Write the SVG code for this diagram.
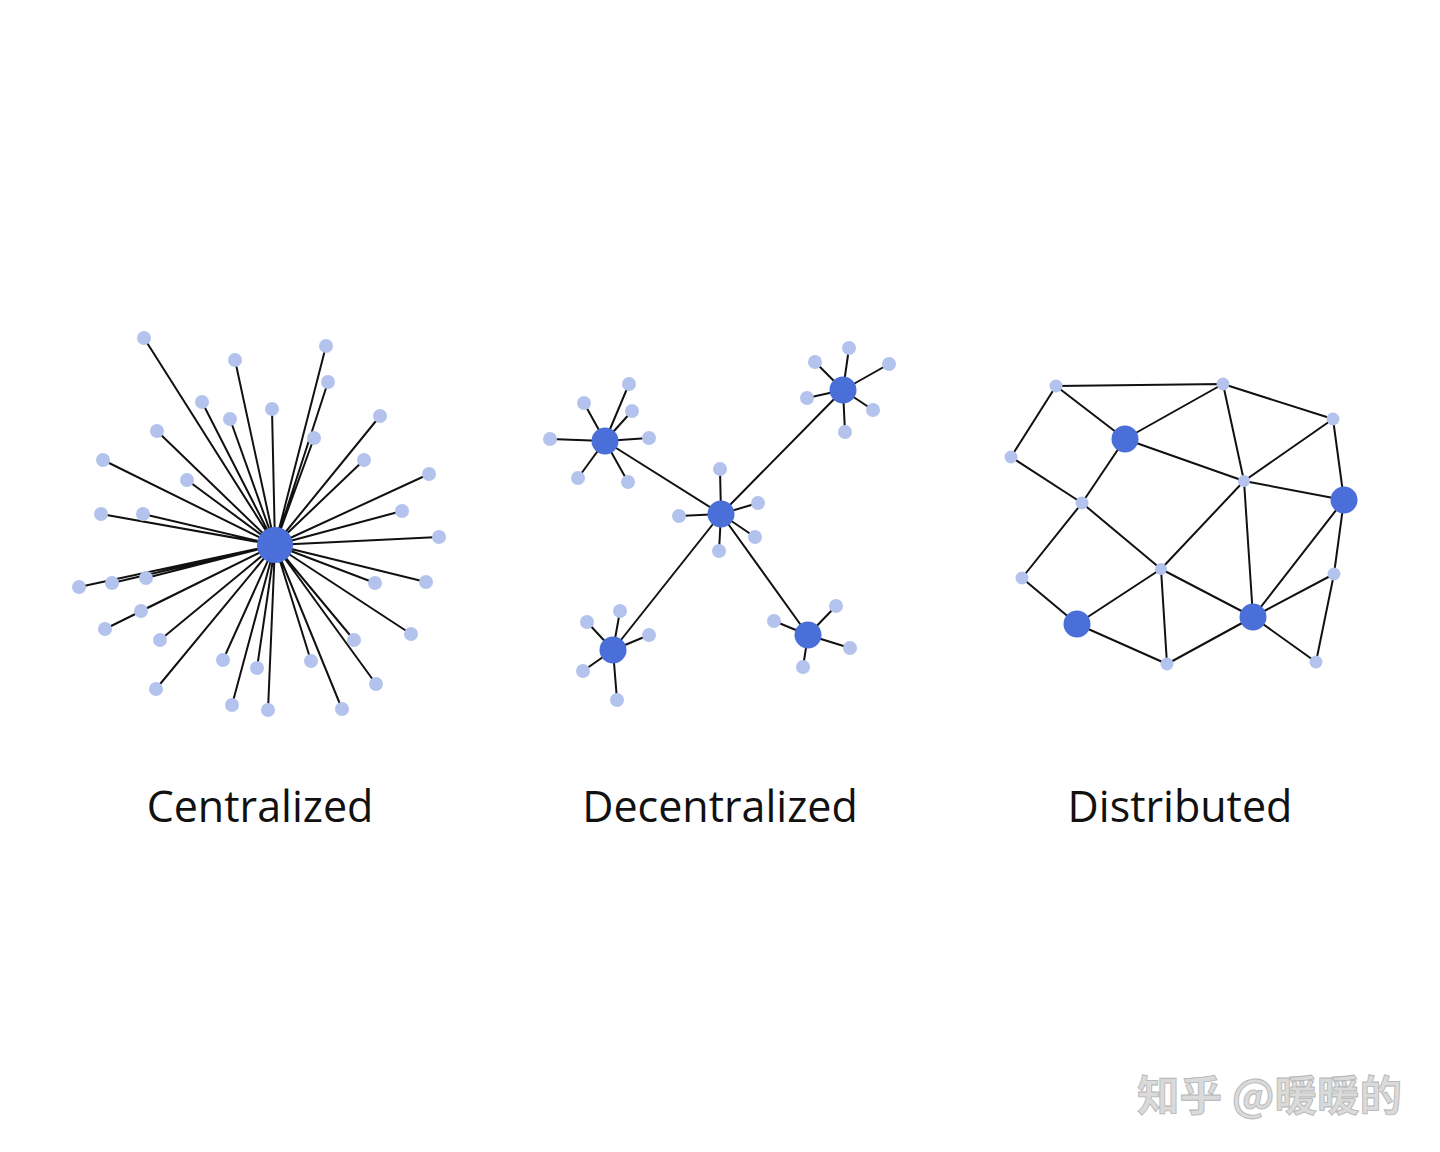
<svg xmlns="http://www.w3.org/2000/svg" width="1440" height="1152" viewBox="0 0 1440 1152">
<style>
.e{stroke:#111;stroke-width:2;fill:none}
.leaf{fill:#b3c3ed}
.hub{fill:#4a6fd9}
.lbl{font-family:"Open Sans","Noto Sans","Liberation Sans",sans-serif;font-size:43px;fill:#111;text-anchor:middle}
.wm{font-family:"Noto Sans CJK SC","Noto Sans",sans-serif;font-size:42.5px;font-weight:bold;fill:#dadada;stroke:#b4b4b4;stroke-width:0.8}
</style>
<rect width="1440" height="1152" fill="#fff"/>
<g id="connectors">
<g id="c-edges">
<path class="e" d="M275 545L144 338M275 545L235 360M275 545L202 402M275 545L230 419M275 545L272 409M275 545L157 431M275 545L103 460M275 545L187 480M275 545L101 514M275 545L143 514M275 545L326 346M275 545L328 382M275 545L314 438M275 545L380 416M275 545L364 460M275 545L429 474M275 545L402 511M275 545L439 537M275 545L79 587M275 545L112 583M275 545L146 578M275 545L141 611M275 545L105 629M275 545L160 640M275 545L223 660M275 545L257 668M275 545L156 689M275 545L232 705M275 545L268 710M275 545L375 583M275 545L426 582M275 545L354 640M275 545L411 634M275 545L311 661M275 545L376 684M275 545L342 709"/>
</g>
<g id="d-edges">
<path class="e" d="M721 514L605 441M721 514L843 390M721 514L613 650M721 514L808 635"/>
<path class="e" d="M721 514L720 469M721 514L758 503M721 514L755 537M721 514L719 551M721 514L679 516"/>
<path class="e" d="M605 441L629 384M605 441L584 403M605 441L632 411M605 441L550 439M605 441L649 438M605 441L578 478M605 441L628 482"/>
<path class="e" d="M843 390L849 348M843 390L815 362M843 390L889 364M843 390L807 398M843 390L873 410M843 390L845 432"/>
<path class="e" d="M613 650L620 611M613 650L587 622M613 650L649 635M613 650L583 671M613 650L617 700"/>
<path class="e" d="M808 635L836 606M808 635L774 621M808 635L850 648M808 635L803 667"/>
</g>
<g id="x-edges">
<path class="e" d="M1056 386L1223 384M1056 386L1011 457M1056 386L1125 439M1011 457L1082 503M1125 439L1082 503M1125 439L1223 384M1125 439L1244 481M1223 384L1333 419M1223 384L1244 481M1333 419L1244 481M1333 419L1344 500M1244 481L1344 500M1244 481L1161 569M1244 481L1253 617M1082 503L1022 578M1082 503L1161 569M1022 578L1077 624M1077 624L1161 569M1077 624L1167 664M1161 569L1167 664M1161 569L1253 617M1167 664L1253 617M1253 617L1344 500M1253 617L1334 574M1253 617L1316 662M1344 500L1334 574M1334 574L1316 662"/>
</g>
</g>
<g id="centralized">
<g id="c-leaves" class="leaf">
<circle cx="144" cy="338" r="7"/><circle cx="235" cy="360" r="7"/><circle cx="202" cy="402" r="7"/><circle cx="230" cy="419" r="7"/><circle cx="272" cy="409" r="7"/><circle cx="157" cy="431" r="7"/><circle cx="103" cy="460" r="7"/><circle cx="187" cy="480" r="7"/><circle cx="101" cy="514" r="7"/><circle cx="143" cy="514" r="7"/><circle cx="326" cy="346" r="7"/><circle cx="328" cy="382" r="7"/><circle cx="314" cy="438" r="7"/><circle cx="380" cy="416" r="7"/><circle cx="364" cy="460" r="7"/><circle cx="429" cy="474" r="7"/><circle cx="402" cy="511" r="7"/><circle cx="439" cy="537" r="7"/><circle cx="79" cy="587" r="7"/><circle cx="112" cy="583" r="7"/><circle cx="146" cy="578" r="7"/><circle cx="141" cy="611" r="7"/><circle cx="105" cy="629" r="7"/><circle cx="160" cy="640" r="7"/><circle cx="223" cy="660" r="7"/><circle cx="257" cy="668" r="7"/><circle cx="156" cy="689" r="7"/><circle cx="232" cy="705" r="7"/><circle cx="268" cy="710" r="7"/><circle cx="375" cy="583" r="7"/><circle cx="426" cy="582" r="7"/><circle cx="354" cy="640" r="7"/><circle cx="411" cy="634" r="7"/><circle cx="311" cy="661" r="7"/><circle cx="376" cy="684" r="7"/><circle cx="342" cy="709" r="7"/>
</g>
<circle id="c-hub" class="hub" cx="275" cy="545" r="18"/>
<text id="c-label" class="lbl" x="260" y="822">Centralized</text>
</g>
<g id="decentralized">
<g id="d-leaves" class="leaf">
<circle cx="720" cy="469" r="7"/><circle cx="758" cy="503" r="7"/><circle cx="755" cy="537" r="7"/><circle cx="719" cy="551" r="7"/><circle cx="679" cy="516" r="7"/>
<circle cx="629" cy="384" r="7"/><circle cx="584" cy="403" r="7"/><circle cx="632" cy="411" r="7"/><circle cx="550" cy="439" r="7"/><circle cx="649" cy="438" r="7"/><circle cx="578" cy="478" r="7"/><circle cx="628" cy="482" r="7"/>
<circle cx="849" cy="348" r="7"/><circle cx="815" cy="362" r="7"/><circle cx="889" cy="364" r="7"/><circle cx="807" cy="398" r="7"/><circle cx="873" cy="410" r="7"/><circle cx="845" cy="432" r="7"/>
<circle cx="620" cy="611" r="7"/><circle cx="587" cy="622" r="7"/><circle cx="649" cy="635" r="7"/><circle cx="583" cy="671" r="7"/><circle cx="617" cy="700" r="7"/>
<circle cx="836" cy="606" r="7"/><circle cx="774" cy="621" r="7"/><circle cx="850" cy="648" r="7"/><circle cx="803" cy="667" r="7"/>
</g>
<g id="d-hubs" class="hub">
<circle cx="721" cy="514" r="13.5"/><circle cx="605" cy="441" r="13.5"/><circle cx="843" cy="390" r="13.5"/><circle cx="613" cy="650" r="13.5"/><circle cx="808" cy="635" r="13.5"/>
</g>
<text id="d-label" class="lbl" x="720" y="822">Decentralized</text>
</g>
<g id="distributed">
<g id="x-nodes" class="leaf">
<circle cx="1056" cy="386" r="6.5"/><circle cx="1011" cy="457" r="6.5"/><circle cx="1082" cy="503" r="6.5"/><circle cx="1223" cy="384" r="6.5"/><circle cx="1333" cy="419" r="6.5"/><circle cx="1244" cy="481" r="6"/><circle cx="1022" cy="578" r="6.5"/><circle cx="1161" cy="569" r="6"/><circle cx="1334" cy="574" r="6.5"/><circle cx="1167" cy="664" r="6.5"/><circle cx="1316" cy="662" r="6.5"/>
</g>
<g id="x-hubs" class="hub">
<circle cx="1125" cy="439" r="13.5"/><circle cx="1344" cy="500" r="13.5"/><circle cx="1077" cy="624" r="13.5"/><circle cx="1253" cy="617" r="13.5"/>
</g>
<text id="x-label" class="lbl" x="1180" y="822">Distributed</text>
</g>
<text id="watermark" class="wm" x="1137" y="1111">知乎 @暖暖的</text>
</svg>
